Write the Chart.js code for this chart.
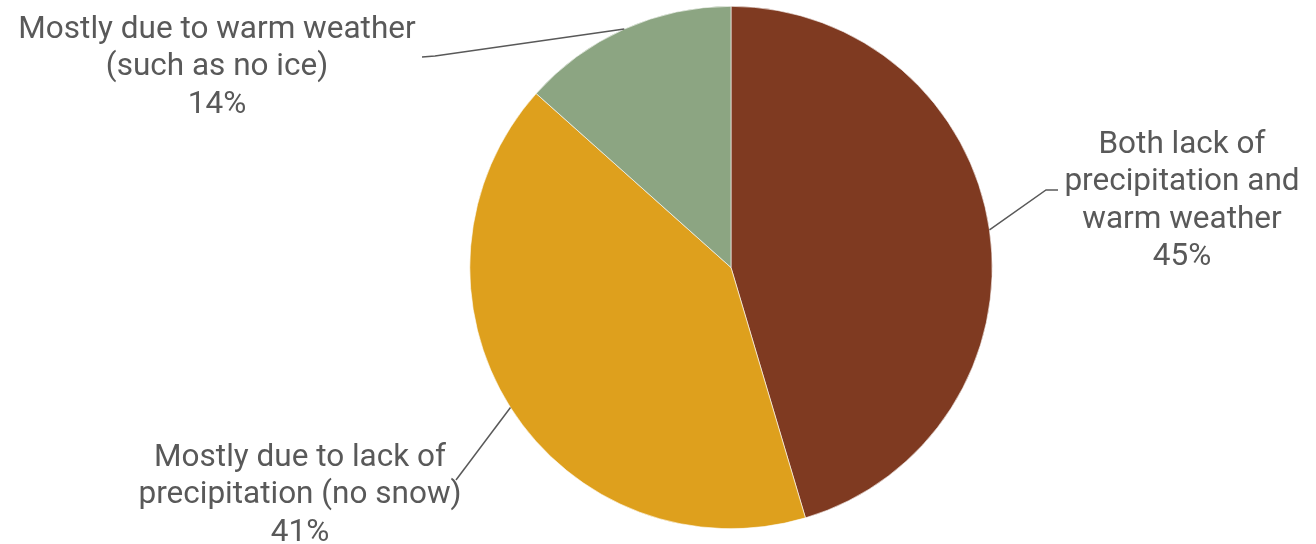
<!DOCTYPE html>
<html>
<head>
<meta charset="utf-8">
<script src="https://cdn.jsdelivr.net/npm/chart.js@4/dist/chart.umd.min.js"></script>
<style>
  html, body { margin: 0; padding: 0; background: #fff; }
  #wrap { width: 1316px; height: 544px; }
</style>
</head>
<body>
<div id="wrap"><canvas id="pieChart"></canvas></div>
<script>
'use strict';

// Daten
const categories = [
  ['Both lack of', 'precipitation and', 'warm weather'],
  ['Mostly due to lack of', 'precipitation (no snow)'],
  ['Mostly due to warm weather', '(such as no ice)'],
];
const shares = [45.4, 41.2, 13.4];
const percentLabels = ['45%', '41%', '14%'];
const sliceColors = ['#7F3A21', '#DEA01D', '#8CA582'];

// Position der Beschriftungen (Mitte der ersten Zeile, Knick der Linie, Linienende)
const labelPlaces = [
  { x: 1182, y: 145, elbow: [1046, 190], end: [1058, 190] },
  { x: 300, y: 458, elbow: [456, 480], end: [456, 480] },
  { x: 217, y: 30, elbow: [435, 56], end: [422, 57] },
];

const calloutPlugin = {
  id: 'callouts',
  afterDraw(chart) {
    const ctx = chart.ctx;
    const meta = chart.getDatasetMeta(0);
    ctx.save();
    meta.data.forEach((arc, i) => {
      const p = arc.getProps(['x', 'y', 'startAngle', 'endAngle', 'outerRadius'], true);
      const mid = (p.startAngle + p.endAngle) / 2;
      const sx = p.x + Math.cos(mid) * p.outerRadius;
      const sy = p.y + Math.sin(mid) * p.outerRadius;
      const place = labelPlaces[i];

      ctx.strokeStyle = '#595959';
      ctx.lineWidth = 1.5;
      ctx.beginPath();
      ctx.moveTo(sx, sy);
      ctx.lineTo(place.elbow[0], place.elbow[1]);
      ctx.lineTo(place.end[0], place.end[1]);
      ctx.stroke();

      ctx.fillStyle = '#595959';
      ctx.font = '31.5px Roboto';
      ctx.textAlign = 'center';
      ctx.textBaseline = 'middle';
      const lines = [...categories[i], percentLabels[i]];
      lines.forEach((line, j) => {
        ctx.fillText(line, place.x, place.y + j * 37.5);
      });
    });
    ctx.restore();
  },
};

new Chart(document.getElementById('pieChart'), {
  type: 'pie',
  data: {
    labels: categories.map(c => c.join(' ')),
    datasets: [
      {
        data: shares,
        backgroundColor: sliceColors,
        borderColor: '#ffffff',
        borderWidth: 0.6,
      },
    ],
  },
  options: {
    responsive: true,
    maintainAspectRatio: false,
    animation: false,
    layout: { padding: { top: 6, bottom: 15, left: 146, right: 0 } },
    plugins: {
      legend: { display: false },
      tooltip: { enabled: false },
    },
  },
  plugins: [calloutPlugin],
});
</script>
</body>
</html>
